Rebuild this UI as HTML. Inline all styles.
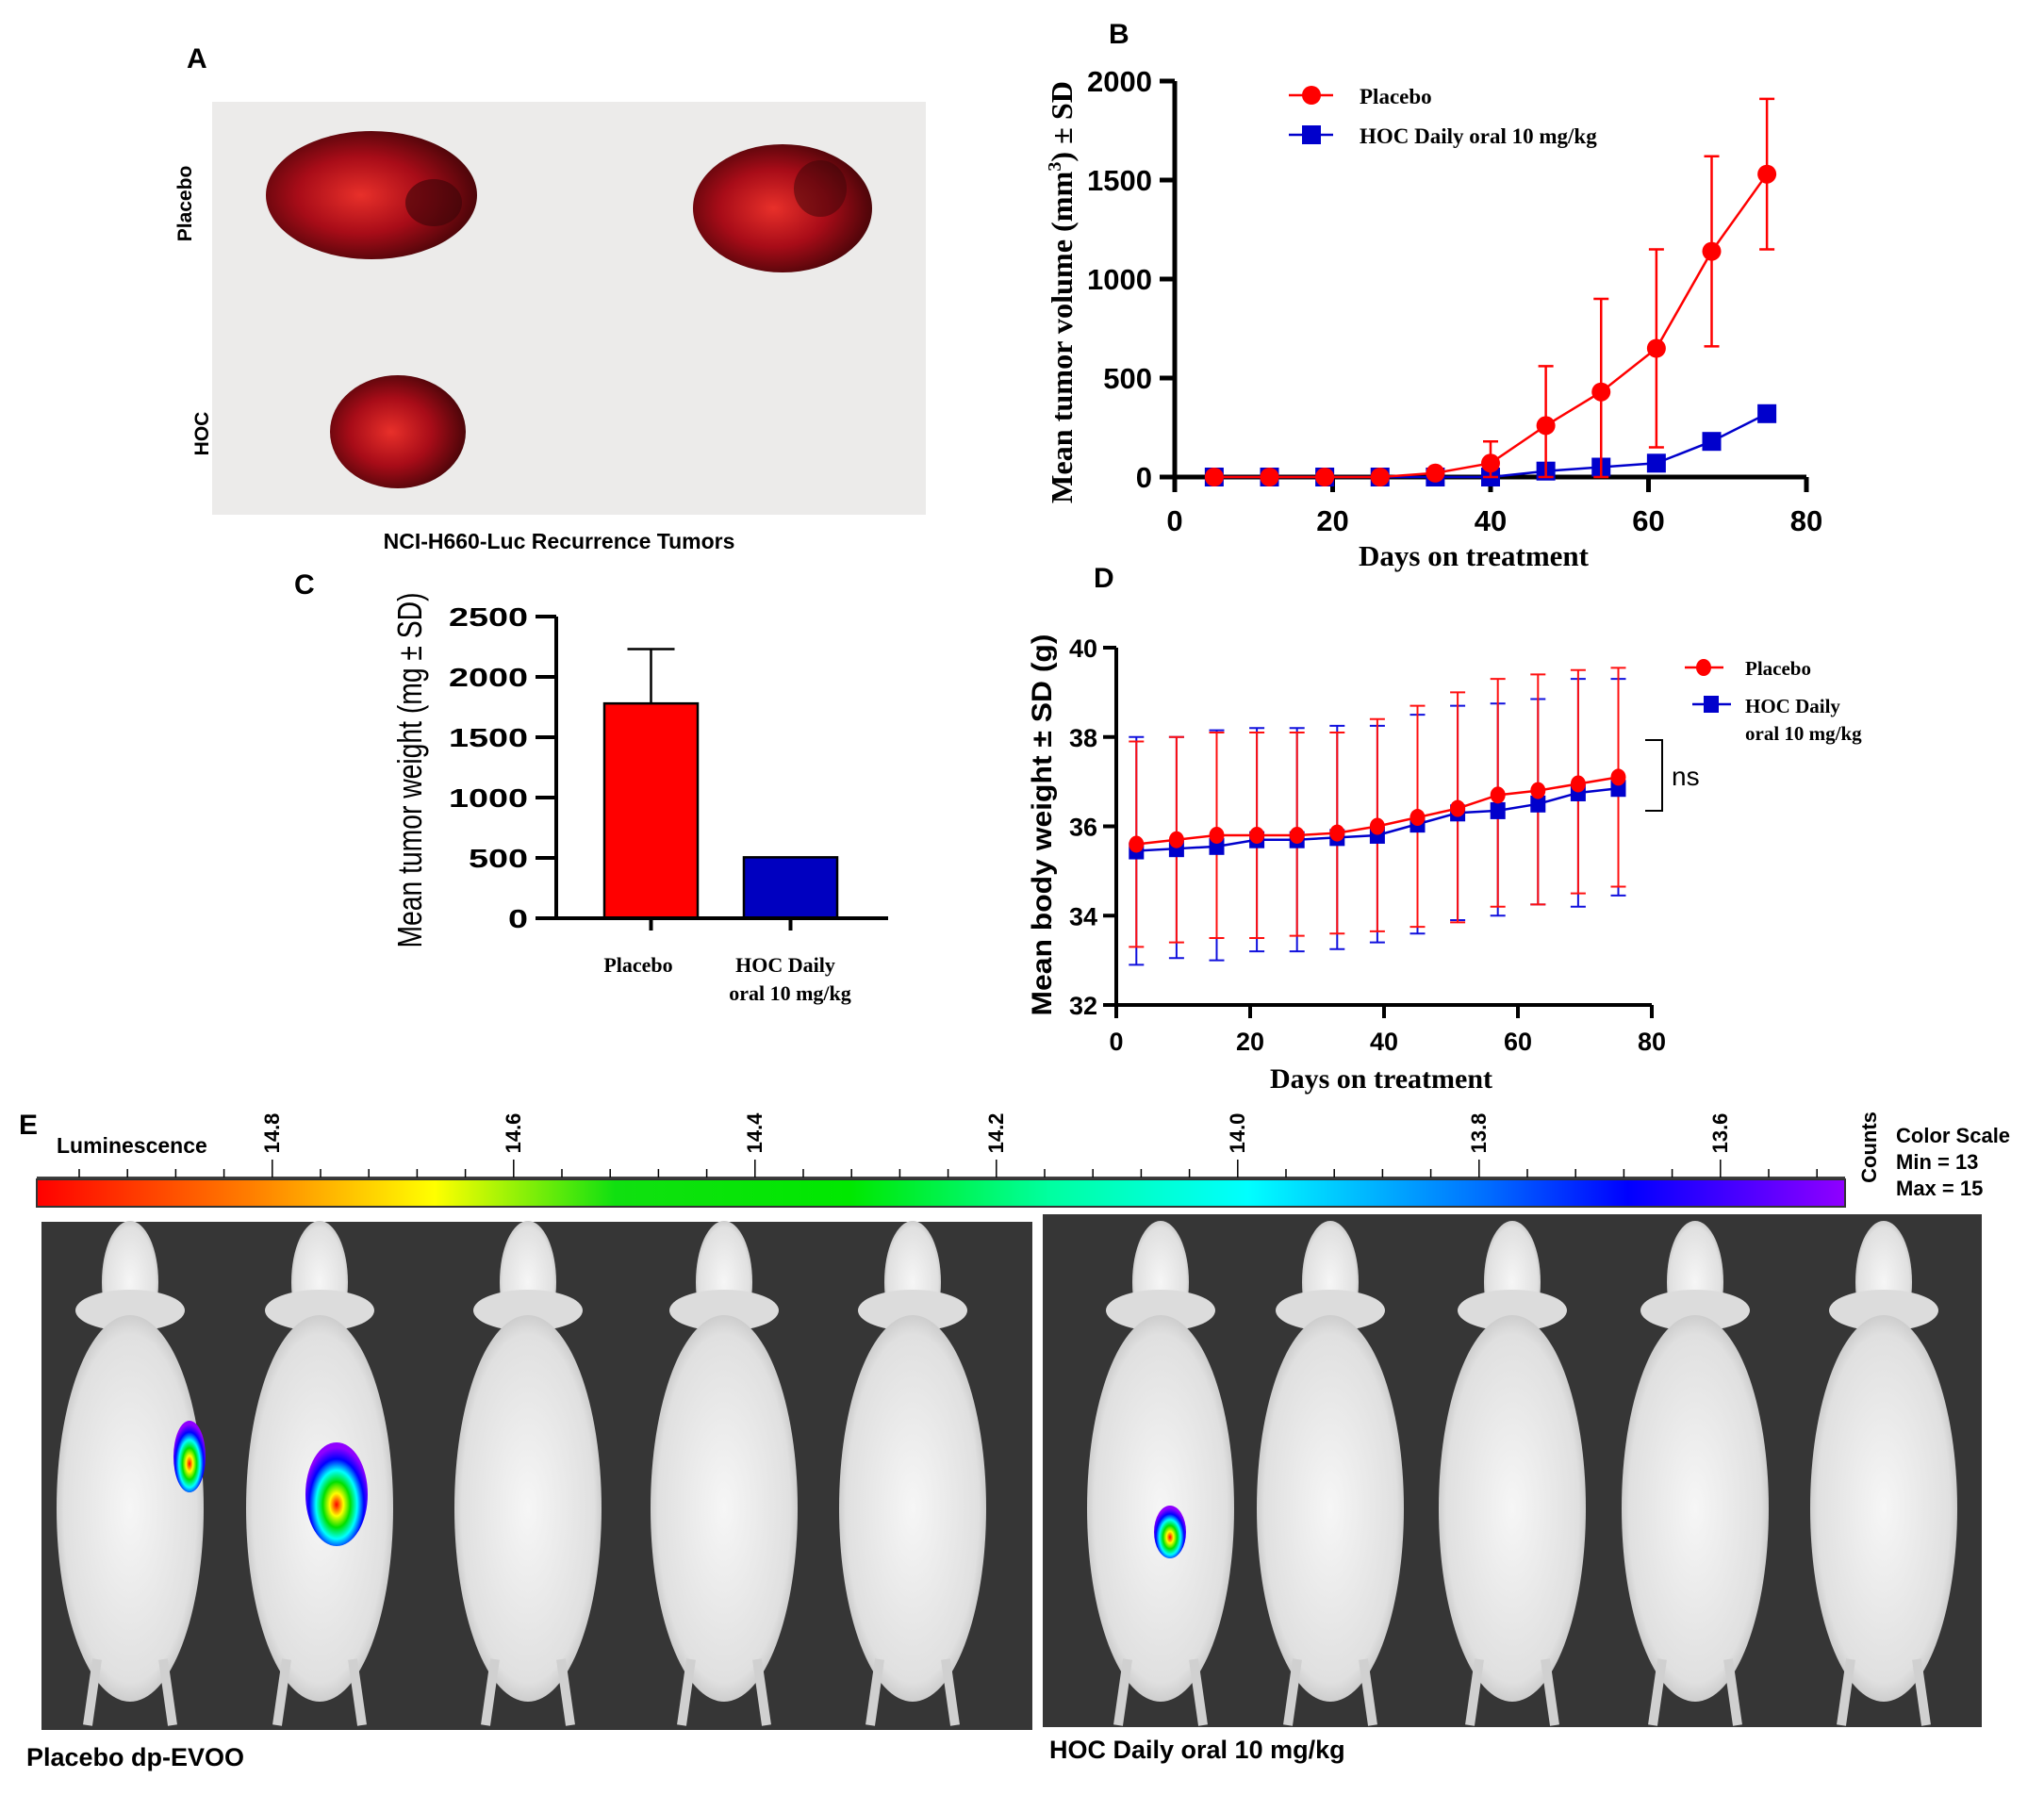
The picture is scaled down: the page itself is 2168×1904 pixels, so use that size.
<!DOCTYPE html>
<html><head><meta charset="utf-8"><style>
html,body{margin:0;padding:0;background:#fff;}
svg text{font-family:"Liberation Sans",sans-serif;}
.serif{font-family:"Liberation Serif",serif !important;}
</style></head><body>
<svg id="fig" xmlns="http://www.w3.org/2000/svg" width="2168" height="1899" viewBox="0 0 2168 1899">
<defs>
 <linearGradient id="cbar" x1="0" x2="1" y1="0" y2="0">
  <stop offset="0" stop-color="#ff0000"/><stop offset="0.12" stop-color="#ff8000"/>
  <stop offset="0.22" stop-color="#ffff00"/><stop offset="0.32" stop-color="#10e010"/>
  <stop offset="0.45" stop-color="#00e800"/><stop offset="0.56" stop-color="#00ffa0"/>
  <stop offset="0.67" stop-color="#00ffff"/><stop offset="0.8" stop-color="#0070ff"/>
  <stop offset="0.88" stop-color="#0000ff"/><stop offset="1" stop-color="#9000ff"/>
 </linearGradient>
 <radialGradient id="mouseG" cx="0.5" cy="0.5" r="0.6">
  <stop offset="0" stop-color="#f6f6f6"/><stop offset="0.75" stop-color="#e0e0e0"/><stop offset="1" stop-color="#a8a8a8"/>
 </radialGradient>
 <radialGradient id="tumG" cx="0.45" cy="0.5" r="0.6">
  <stop offset="0" stop-color="#e8302a"/><stop offset="0.5" stop-color="#a80c18"/><stop offset="1" stop-color="#3a0406"/>
 </radialGradient>
 <radialGradient id="blob" cx="0.5" cy="0.6" r="0.55">
  <stop offset="0" stop-color="#ff0000"/><stop offset="0.2" stop-color="#ffff00"/><stop offset="0.4" stop-color="#00e000"/>
  <stop offset="0.6" stop-color="#00ffff"/><stop offset="0.8" stop-color="#0000ff"/><stop offset="1" stop-color="#9000ff"/>
 </radialGradient>
</defs>

<g>
 <text x="198" y="72" font-size="30" font-weight="bold">A</text>
 <rect x="225" y="108" width="757" height="438" fill="#ecebea"/>
 <ellipse cx="394" cy="207" rx="112" ry="68" fill="url(#tumG)"/>
 <ellipse cx="460" cy="215" rx="30" ry="25" fill="#3a0508" opacity="0.6"/>
 <ellipse cx="830" cy="221" rx="95" ry="68" fill="url(#tumG)"/>
 <ellipse cx="870" cy="200" rx="28" ry="30" fill="#3a0508" opacity="0.5"/>
 <ellipse cx="422" cy="458" rx="72" ry="60" fill="url(#tumG)"/>
 <text transform="translate(203,216) rotate(-90)" text-anchor="middle" font-size="21" font-weight="bold">Placebo</text>
 <text transform="translate(221,460) rotate(-90)" text-anchor="middle" font-size="21" font-weight="bold">HOC</text>
 <text x="593" y="582" text-anchor="middle" font-size="23" font-weight="bold">NCI-H660-Luc Recurrence Tumors</text>
</g>

<g id="panelB"></g>
<g id="panelC"></g>
<g id="panelD"></g>
<g id="panelE"></g>
</svg>
<script>
const bDays = [5,12,19,26,33,40,47,54,61,68,75];
const bPlacebo = [0,0,0,0,20,70,260,430,650,1140,1530];
const bPlaceboSD = [0,0,0,0,0,110,300,470,500,480,380];
const bHOC = [0,0,0,0,0,0,30,50,70,180,320];
const bYTicks = [0,500,1000,1500,2000];
const bXTicks = [0,20,40,60,80];
const cCategories = ["Placebo","HOC Daily"];
const cValues = [1780,505];
const cSD = [450,0];
const cYTicks = [0,500,1000,1500,2000,2500];
const dDays = [3,9,15,21,27,33,39,45,51,57,63,69,75];
const dPlacebo = [35.6,35.7,35.8,35.8,35.8,35.85,36.0,36.2,36.4,36.7,36.8,36.95,37.1];
const dPlaceboUpper = [37.9,38.0,38.1,38.1,38.1,38.1,38.4,38.7,39.0,39.3,39.4,39.5,39.55];
const dPlaceboLower = [33.3,33.4,33.5,33.5,33.55,33.6,33.65,33.75,33.85,34.2,34.25,34.5,34.65];
const dHOC = [35.45,35.5,35.55,35.7,35.7,35.75,35.8,36.05,36.3,36.35,36.5,36.75,36.85];
const dHOCUpper = [38.0,38.0,38.15,38.2,38.2,38.25,38.25,38.5,38.7,38.75,38.85,39.3,39.3];
const dHOCLower = [32.9,33.05,33.0,33.2,33.2,33.25,33.4,33.6,33.9,34.0,34.25,34.2,34.45];
const dYTicks = [32,34,36,38,40];
const dXTicks = [0,20,40,60,80];
const eScaleLabels = ["14.8","14.6","14.4","14.2","14.0","13.8","13.6"];

const NS="http://www.w3.org/2000/svg";
function mk(parent,tag,attrs,txt){const e=document.createElementNS(NS,tag);for(const k in attrs)e.setAttribute(k,attrs[k]);if(txt!==undefined)e.textContent=txt;parent.appendChild(e);return e;}

(function(){
 const g=document.getElementById('panelB');
 const x0=1246,x1=1916,y0=506,y1=86;
 const xB=d=>x0+(d-0)*(x1-x0)/80;
 const yB=v=>y0-(v-0)*(y0-y1)/2000;
 let t=mk(g,'text',{x:1176,y:46,'font-size':30,'font-weight':'bold'},'B');
 
 
 let a=mk(g,'path',{d:`M${x0},${y1} V${y0} H${x1}`,stroke:'#000','stroke-width':5,fill:'none'});
 
 
 bYTicks.forEach(v=>{
  let l=mk(g,'line',{x1:x0-16,x2:x0,y1:yB(v),y2:yB(v),stroke:'#000','stroke-width':5});
  
  
  let tx=mk(g,'text',{x:x0-24,y:yB(v)+11,'text-anchor':'end','font-size':31,'font-weight':'bold'},String(v));
  
  
 });
 bXTicks.forEach(v=>{
  let l=mk(g,'line',{x1:xB(v),x2:xB(v),y1:y0,y2:y0+16,stroke:'#000','stroke-width':5});
  
  
  let tx=mk(g,'text',{x:xB(v),y:y0+57,'text-anchor':'middle','font-size':31,'font-weight':'bold'},String(v));
  
  
 });
 let xt=mk(g,'text',{x:1563,y:600,'text-anchor':'middle','font-size':31,'font-weight':'bold',class:'serif'},'Days on treatment');
 
 
 let yt=mk(g,'text',{transform:'translate(1137,310) rotate(-90)','text-anchor':'middle','font-size':32,'font-weight':'bold',class:'serif',textLength:448,lengthAdjust:'spacingAndGlyphs'});
 
 
 yt.innerHTML='Mean tumor volume (mm<tspan dy="-12" font-size="20">3</tspan><tspan dy="12">) ± SD</tspan>';
 let ph=mk(g,'polyline',{points:bDays.map((d,i)=>xB(d)+','+yB(bHOC[i])).join(' '),fill:'none',stroke:'#0000cc','stroke-width':2.5});
 
 
 bDays.forEach((d,i)=>{
  let r=mk(g,'rect',{x:xB(d)-10,y:yB(bHOC[i])-10,width:20,height:20,fill:'#0000cc'});
  
  
 });
 bDays.forEach((d,i)=>{
  if(bPlaceboSD[i]>0){
   const up=yB(bPlacebo[i]+bPlaceboSD[i]),lo=yB(Math.max(0,bPlacebo[i]-bPlaceboSD[i]));
   let e=mk(g,'path',{d:`M${xB(d)},${up} V${lo} M${xB(d)-8},${up} H${xB(d)+8} M${xB(d)-8},${lo} H${xB(d)+8}`,stroke:'#ff0000','stroke-width':2.5,fill:'none'});
   
   
  }
 });
 let pp=mk(g,'polyline',{points:bDays.map((d,i)=>xB(d)+','+yB(bPlacebo[i])).join(' '),fill:'none',stroke:'#ff0000','stroke-width':2.5});
 
 
 bDays.forEach((d,i)=>{
  let c=mk(g,'circle',{cx:xB(d),cy:yB(bPlacebo[i]),r:10,fill:'#ff0000'});
  
  
 });
 let l1=mk(g,'g',{});
 
 
 mk(l1,'line',{x1:1367,x2:1414,y1:101,y2:101,stroke:'#ff0000','stroke-width':2.5});
 mk(l1,'circle',{cx:1391,cy:101,r:10,fill:'#ff0000'});
 mk(l1,'text',{x:1442,y:110,'font-size':23,'font-weight':'bold',class:'serif'},'Placebo');
 let l2=mk(g,'g',{});
 
 
 mk(l2,'line',{x1:1367,x2:1414,y1:143,y2:143,stroke:'#0000cc','stroke-width':2.5});
 mk(l2,'rect',{x:1381,y:133,width:20,height:20,fill:'#0000cc'});
 mk(l2,'text',{x:1442,y:152,'font-size':23,'font-weight':'bold',class:'serif'},'HOC Daily oral 10 mg/kg');
})();

(function(){
 const g=document.getElementById('panelC');
 const x0=590,x1=942,y0=974,y1=654;
 const yC=v=>y0-v*(y0-y1)/2500;
 const barX=[641,789],barW=99,colors=['#ff0000','#0000c0'];
 let t=mk(g,'text',{x:312,y:630,'font-size':30,'font-weight':'bold'},'C');
 
 
 cValues.forEach((v,i)=>{
  let r=mk(g,'rect',{x:barX[i],y:yC(v),width:barW,height:y0-yC(v),fill:colors[i],stroke:'#000','stroke-width':2.5});
  
  
  if(cSD[i]>0){
   const cx=barX[i]+barW/2,top=yC(v+cSD[i]);
   let e=mk(g,'path',{d:`M${cx},${yC(v)} V${top} M${cx-25},${top} H${cx+25}`,stroke:'#000','stroke-width':2.5,fill:'none'});
   
   
  }
  let tk=mk(g,'line',{x1:barX[i]+barW/2,x2:barX[i]+barW/2,y1:y0,y2:y0+13,stroke:'#000','stroke-width':4});
  
  
 });
 let a=mk(g,'path',{d:`M${x0},${y1} V${y0} H${x1}`,stroke:'#000','stroke-width':4,fill:'none'});
 
 
 cYTicks.forEach(v=>{
  let l=mk(g,'line',{x1:x0-22,x2:x0,y1:yC(v),y2:yC(v),stroke:'#000','stroke-width':4});
  
  
  const s=String(v);
  let tx=mk(g,'text',{x:560,y:yC(v)+10,'text-anchor':'end','font-size':28,'font-weight':'bold',textLength:s.length*21,lengthAdjust:'spacingAndGlyphs'},s);
  
  
 });
 let yt=mk(g,'text',{transform:'translate(447,817) rotate(-90)','text-anchor':'middle','font-size':36,textLength:377,lengthAdjust:'spacingAndGlyphs'},'Mean tumor weight (mg ± SD)');
 
 
 let c1=mk(g,'text',{x:677,y:1031,'text-anchor':'middle','font-size':22,'font-weight':'bold',class:'serif'},cCategories[0]);
 
 
 let c2=mk(g,'text',{x:833,y:1031,'text-anchor':'middle','font-size':22,'font-weight':'bold',class:'serif'},cCategories[1]);
 
 
 let c3=mk(g,'text',{x:838,y:1061,'text-anchor':'middle','font-size':22,'font-weight':'bold',class:'serif'},'oral 10 mg/kg');
 
 
})();

(function(){
 const g=document.getElementById('panelD');
 const x0=1184,x1=1752,y0=1066,y1=687;
 const xD=d=>x0+d*(x1-x0)/80;
 const yD=v=>y0-(v-32)*(y0-y1)/8;
 let t=mk(g,'text',{x:1160,y:623,'font-size':30,'font-weight':'bold'},'D');
 
 
 let a=mk(g,'path',{d:`M${x0},${y1} V${y0} H${x1}`,stroke:'#000','stroke-width':4,fill:'none'});
 
 
 dYTicks.forEach(v=>{
  let l=mk(g,'line',{x1:x0-14,x2:x0,y1:yD(v),y2:yD(v),stroke:'#000','stroke-width':4});
  
  
  let tx=mk(g,'text',{x:x0-20,y:yD(v)+10,'text-anchor':'end','font-size':27,'font-weight':'bold'},String(v));
  
  
 });
 dXTicks.forEach(v=>{
  let l=mk(g,'line',{x1:xD(v),x2:xD(v),y1:y0,y2:y0+14,stroke:'#000','stroke-width':4});
  
  
  let tx=mk(g,'text',{x:xD(v),y:y0+48,'text-anchor':'middle','font-size':27,'font-weight':'bold'},String(v));
  
  
 });
 let xt=mk(g,'text',{x:1465,y:1154,'text-anchor':'middle','font-size':30,'font-weight':'bold',class:'serif'},'Days on treatment');
 
 
 let yt=mk(g,'text',{transform:'translate(1115,875) rotate(-90)','text-anchor':'middle','font-size':30,'font-weight':'bold',textLength:405,lengthAdjust:'spacingAndGlyphs'},'Mean body weight ± SD (g)');
 
 
 function errs(up,lo,col,name){
  dDays.forEach((d,i)=>{
   const x=xD(d),u=yD(up[i]),l=yD(lo[i]);
   let e=mk(g,'path',{d:`M${x},${u} V${l} M${x-8},${u} H${x+8} M${x-8},${l} H${x+8}`,stroke:col,'stroke-width':2,fill:'none'});
   
   
  });
 }
 errs(dHOCUpper,dHOCLower,'#1010dd','d-hoc-error-bar');
 errs(dPlaceboUpper,dPlaceboLower,'#ff1010','d-placebo-error-bar');
 let ph=mk(g,'polyline',{points:dDays.map((d,i)=>xD(d)+','+yD(dHOC[i])).join(' '),fill:'none',stroke:'#0000cc','stroke-width':2.5});
 
 
 dDays.forEach((d,i)=>{
  let r=mk(g,'rect',{x:xD(d)-8,y:yD(dHOC[i])-9,width:16,height:18,fill:'#0000cc'});
  
  
 });
 let pp=mk(g,'polyline',{points:dDays.map((d,i)=>xD(d)+','+yD(dPlacebo[i])).join(' '),fill:'none',stroke:'#ff0000','stroke-width':2.5});
 
 
 dDays.forEach((d,i)=>{
  let c=mk(g,'ellipse',{cx:xD(d),cy:yD(dPlacebo[i]),rx:8,ry:9,fill:'#ff0000'});
  
  
 });
 let l1=mk(g,'g',{});
 
 
 mk(l1,'line',{x1:1787,x2:1828,y1:708,y2:708,stroke:'#ff0000','stroke-width':2.5});
 mk(l1,'ellipse',{cx:1807,cy:708,rx:8,ry:9,fill:'#ff0000'});
 mk(l1,'text',{x:1851,y:716,'font-size':21,'font-weight':'bold',class:'serif'},'Placebo');
 let l2=mk(g,'g',{});
 
 
 mk(l2,'line',{x1:1795,x2:1836,y1:747,y2:747,stroke:'#0000cc','stroke-width':2.5});
 mk(l2,'rect',{x:1807,y:738,width:16,height:18,fill:'#0000cc'});
 mk(l2,'text',{x:1851,y:756,'font-size':21,'font-weight':'bold',class:'serif'},'HOC Daily');
 mk(l2,'text',{x:1851,y:785,'font-size':21,'font-weight':'bold',class:'serif'},'oral 10 mg/kg');
 let br=mk(g,'path',{d:'M1745,785 H1763 V860 H1745',stroke:'#000','stroke-width':2,fill:'none'});
 
 
 let ns=mk(g,'text',{x:1773,y:833,'font-size':28},'ns');
 
 
})();

(function(){
 const g=document.getElementById('panelE');
 let t=mk(g,'text',{x:20,y:1203,'font-size':30,'font-weight':'bold'},'E');
 
 
 let lum=mk(g,'text',{x:60,y:1223,'font-size':23,'font-weight':'bold'},'Luminescence');
 
 
 let bar=mk(g,'rect',{x:39,y:1251,width:1918,height:29,fill:'url(#cbar)',stroke:'#333','stroke-width':2});
 
 
 let base=mk(g,'line',{x1:39,x2:1957,y1:1249,y2:1249,stroke:'#000','stroke-width':1.5});
 
 
 for(let k=0;k<37;k++){
  const x=84+k*51.2,major=(k%5===4);
  if(x>1950)break;
  let l=mk(g,'line',{x1:x,x2:x,y1:major?1230:1240,y2:1249,stroke:'#000','stroke-width':1.5});
  
  
 }
 eScaleLabels.forEach((s,i)=>{
  const x=288+i*256;
  let tx=mk(g,'text',{transform:`translate(${x+8},1202) rotate(-90)`,'text-anchor':'middle','font-size':22,'font-weight':'bold'},s);
  
  
 });
 let cnt=mk(g,'text',{transform:'translate(1990,1217) rotate(-90)','text-anchor':'middle','font-size':22,'font-weight':'bold'},'Counts');
 
 
 [['Color Scale',1212],['Min = 13',1240],['Max = 15',1268]].forEach(([s,y])=>{
  let tx=mk(g,'text',{x:2011,y:y,'font-size':22,'font-weight':'bold'},s);
  
  
 });
 let p1=mk(g,'rect',{x:44,y:1296,width:1051,height:539,fill:'#363636'});
 
 
 let p2=mk(g,'rect',{x:1106,y:1288,width:996,height:544,fill:'#363636'});
 
 
 const mice=[138,339,560,768,968,1231,1411,1604,1798,1998];
 mice.forEach((cx,i)=>{
  const m=mk(g,'g',{});
  
  
  mk(m,'ellipse',{cx:cx,cy:1360,rx:30,ry:65,fill:'url(#mouseG)'});
  mk(m,'ellipse',{cx:cx,cy:1390,rx:58,ry:22,fill:'#dcdcdc'});
  mk(m,'ellipse',{cx:cx,cy:1600,rx:78,ry:205,fill:'url(#mouseG)'});
  mk(m,'line',{x1:cx-35,x2:cx-45,y1:1760,y2:1830,stroke:'#d0d0d0','stroke-width':10});
  mk(m,'line',{x1:cx+35,x2:cx+45,y1:1760,y2:1830,stroke:'#d0d0d0','stroke-width':10});
 });
 [[201,1545,17,38],[357,1585,33,55],[1241,1625,17,28]].forEach(([x,y,rx,ry])=>{
  let b=mk(g,'ellipse',{cx:x,cy:y,rx:rx,ry:ry,fill:'url(#blob)'});
  
  
 });
 let c1=mk(g,'text',{x:28,y:1873,'font-size':27,'font-weight':'bold'},'Placebo dp-EVOO');
 
 
 let c2=mk(g,'text',{x:1113,y:1865,'font-size':27,'font-weight':'bold'},'HOC Daily oral 10 mg/kg');
 
 
})();
</script>
</body></html>
